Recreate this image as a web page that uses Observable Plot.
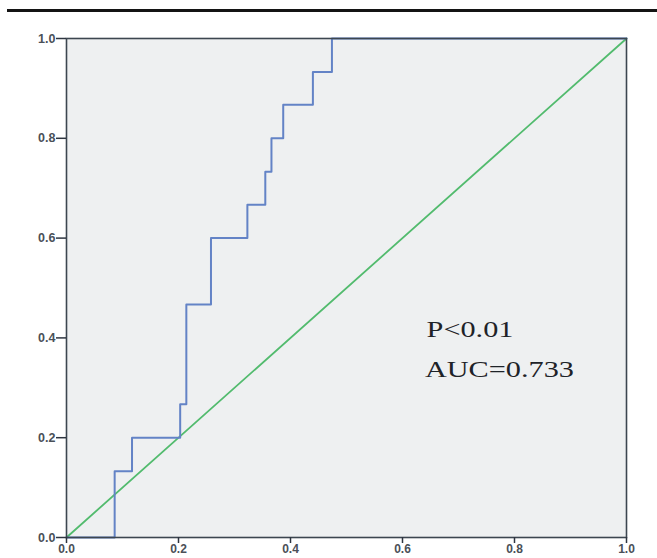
<!DOCTYPE html>
<html>
<head>
<meta charset="utf-8">
<script src="https://cdn.jsdelivr.net/npm/d3@7"></script>
<script src="https://cdn.jsdelivr.net/npm/@observablehq/plot@0.6"></script>
<style>
  html, body { margin: 0; padding: 0; background: #ffffff; }
  #wrap { position: relative; width: 657px; height: 558px; overflow: hidden; }
  #rule { position: absolute; top: 9px; left: 7px; right: 0; height: 3px; background: #141414; }
  #chart { position: absolute; top: 0; left: 0; }
</style>
</head>
<body>
<div id="wrap"><div id="rule"></div><div id="chart"></div></div>
<script>
// ROC curve points (1 - specificity, sensitivity)
const fpr = [0, 0.086, 0.117, 0.203, 0.214, 0.258, 0.323, 0.355, 0.366, 0.387, 0.440, 0.474, 1];
const tpr = [0, 0.133, 0.200, 0.267, 0.467, 0.600, 0.667, 0.733, 0.800, 0.867, 0.933, 1.000, 1];
// reference diagonal
const refX = [0, 1];
const refY = [0, 1];
const ticks = [0, 0.2, 0.4, 0.6, 0.8, 1.0];
const labels = ["P<0.01", "AUC=0.733"];
const labelX = [0.643, 0.640];
const labelY = [0.401, 0.321];

const roc = fpr.map((x, i) => ({x, y: tpr[i]}));
const diag = refX.map((x, i) => ({x, y: refY[i]}));
const notes = labels.map((t, i) => ({t, x: labelX[i], y: labelY[i]}));

const chart = Plot.plot({
  width: 657,
  height: 558,
  marginLeft: 66,
  marginRight: 31,
  marginTop: 38,
  marginBottom: 21,
  style: {background: "transparent", fontFamily: "'Liberation Sans', Arial, sans-serif", fontSize: "12px"},
  x: {domain: [0, 1], label: null},
  y: {domain: [0, 1], label: null},
  marks: [
    Plot.frame({fill: "#eef0f1", stroke: "none"}),
    Plot.line(diag, {x: "x", y: "y", stroke: "#52bb6e", strokeWidth: 1.8}),
    Plot.line(roc, {x: "x", y: "y", curve: "step-after", stroke: "#6383c6", strokeWidth: 2}),
    Plot.frame({stroke: "#3c4650", strokeWidth: 1.6}),
    Plot.axisX({ticks: ticks, tickFormat: d3.format(".1f"), tickSize: 6, tickPadding: 1, stroke: "#2e3540", strokeWidth: 1.5, fill: "#4a5058", fontSize: 12, fontWeight: "bold", label: null}),
    Plot.axisY({ticks: ticks, tickFormat: d3.format(".1f"), tickSize: 10, tickPadding: 1, stroke: "#2e3540", strokeWidth: 1.5, fill: "#4a5058", fontSize: 12.5, fontWeight: "bold", label: null}),
    Plot.text(notes, {x: "x", y: "y", text: "t", textAnchor: "start", lineAnchor: "bottom", fontFamily: "'Liberation Serif', 'Times New Roman', serif", fontSize: 24, fill: "#1e2328"})
  ]
});
document.getElementById("chart").appendChild(chart);
// the reference's annotation glyphs are horizontally stretched
d3.select(chart).selectAll("g[font-size='24'] text").each(function() {
  const w = this.getComputedTextLength();
  this.setAttribute("textLength", (w * 1.26).toFixed(1));
  this.setAttribute("lengthAdjust", "spacingAndGlyphs");
});
</script>
</body>
</html>
